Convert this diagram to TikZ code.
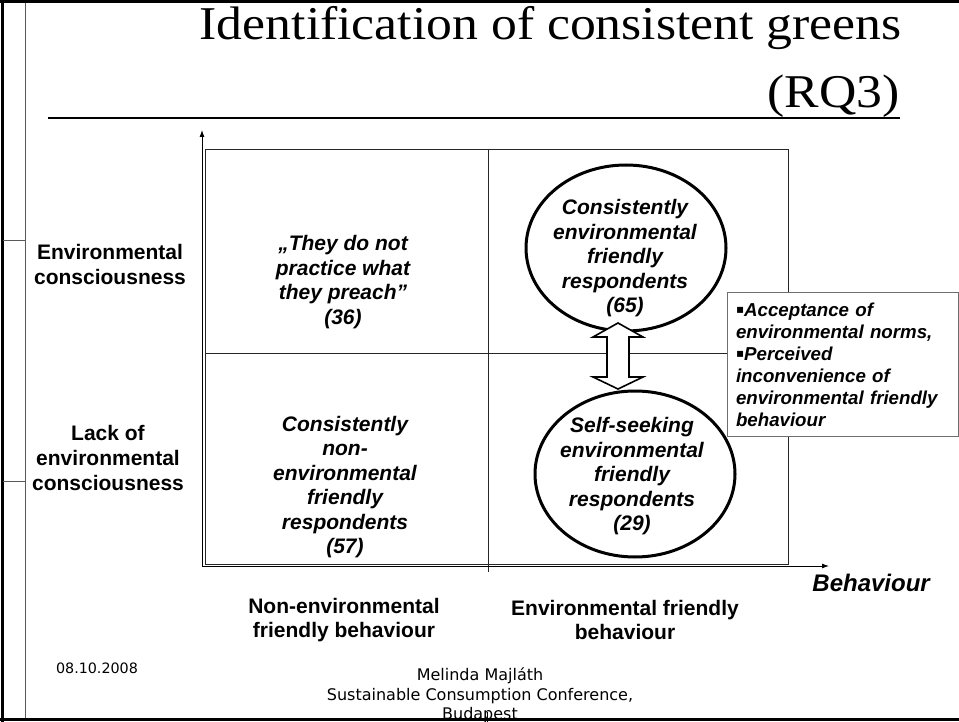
\documentclass[tikz,border=0pt]{standalone}
\usepackage{fontspec}
\setmainfont{Liberation Sans}
\newfontfamily\titlefont{Liberation Serif}[FakeStretch=1.1]
\newfontfamily\footfont{DejaVu Sans}
\usetikzlibrary{shapes.geometric,arrows.meta}
\definecolor{boxgrey}{RGB}{110,110,110}
\definecolor{framegrey}{RGB}{90,90,90}
\newcommand{\sqbullet}{{\normalfont\footfont\fontsize{12}{22}\selectfont\raisebox{2.5pt}{▪}}}
\tikzset{
  lab/.style={font=\bfseries\fontsize{21}{25}\selectfont, align=center, inner sep=0pt},
  qtext/.style={font=\bfseries\itshape\fontsize{21}{24.5}\selectfont, align=center, inner sep=0pt},
  ell/.style={ellipse, draw, line width=3pt, minimum width=200pt, minimum height=166pt, inner sep=0pt, fill=white},
  gridline/.style={line width=0.9pt, draw=black!85},
  axis/.style={line width=0.9pt, -{Latex[length=7pt,width=5pt]}},
  foot/.style={font=\footfont\fontsize{16}{19.5}\selectfont, align=center, inner sep=0pt}
}
\begin{document}
\begin{tikzpicture}[x=1pt,y=-1pt]
\useasboundingbox (0,0) rectangle (959,722);
% frame
\draw[line width=3pt] (0,2) -- (959,2);
\draw[line width=3pt] (2,0) -- (2,722);
\draw[line width=3pt] (0,719) -- (959,719);
\draw[line width=0.9pt, framegrey] (25,3) -- (25,718);
\draw[line width=0.9pt, framegrey] (3,240) -- (25,240);
\draw[line width=0.9pt, framegrey] (3,481) -- (25,481);
\draw[line width=0.8pt] (487,712) -- (487,722);
% title
\node[anchor=base east, font=\titlefont\fontsize{47}{56}\selectfont, inner sep=0pt] (title1) at (902,40) {Identification of consistent greens};
\node[anchor=base east, font=\titlefont\fontsize{47}{56}\selectfont, inner sep=0pt] (title2) at (900,108) {(RQ3)};
\draw[line width=2.5pt] (48,118) -- (900,118);
% grid
\coordinate (O) at (202,566);
\coordinate (ytip) at (202,130);
\coordinate (xtip) at (829,566);
\draw[gridline] (205,149) rectangle (788,564);
\draw[gridline] (488,149) -- (488,572);
\draw[gridline] (205,353) -- (788,353);
\draw[axis] (O) -- (ytip);
\draw[axis] (O) -- (xtip);
% side box
\node[draw=boxgrey, fill=white, line width=1pt, minimum width=231pt, minimum height=143pt,
      text width=213pt, inner xsep=9pt, inner ysep=0pt, align=left,
      font=\bfseries\itshape\fontsize{18.7}{22}\selectfont] (tb) at (842.5,364.5)
  {\sqbullet Acceptance of\\
   environmental norms,\\
   \sqbullet Perceived\\
   inconvenience of\\
   environmental friendly\\
   behaviour};
% ellipses
\node[ell] (up) at (626,248) {};
\node[ell] (low) at (635,474) {};
\node[qtext] (uptext) at (625,258.5) {Consistently\\ environmental\\ friendly\\ respondents\\ (65)};
\node[qtext] (lowtext) at (632,476.5) {Self-seeking\\ environmental\\ friendly\\ respondents\\ (29)};
% double arrow between ellipses
\draw[line width=1.6pt, fill=white, line join=miter]
  (618,323) -- (643,337) -- (629,337) -- (629,377) -- (643,377) -- (618,389)
  -- (593,377) -- (607,377) -- (607,337) -- (593,337) -- cycle;
% quadrant texts
\node[qtext] (q1) at (343,282) {„They do not\\ practice what\\ they preach”\\ (36)};
\node[qtext] (q3) at (345,487) {Consistently\\ non-\\ environmental\\ friendly\\ respondents\\ (57)};
% axis labels
\node[lab] (ec) at (110,264.5) {Environmental\\ consciousness};
\node[lab] (lec) at (108,458) {Lack of\\ environmental\\ consciousness};
\node[lab, anchor=east, font=\bfseries\itshape\fontsize{24}{28}\selectfont] (beh) at (930,583) {Behaviour};
\node[lab, font=\bfseries\fontsize{21}{24}\selectfont] (nefb) at (344,620) {Non-environmental\\ friendly behaviour};
\node[lab, font=\bfseries\fontsize{21}{24}\selectfont] (efb) at (625,620) {Environmental friendly\\ behaviour};
% footer
\node[foot, font=\footfont\fontsize{14.3}{17}\selectfont] (date) at (97,668) {08.10.2008};
\node[foot] (auth) at (480,695.5) {Melinda Majláth\\ Sustainable Consumption Conference,\\ Budapest};
\end{tikzpicture}
\end{document}
